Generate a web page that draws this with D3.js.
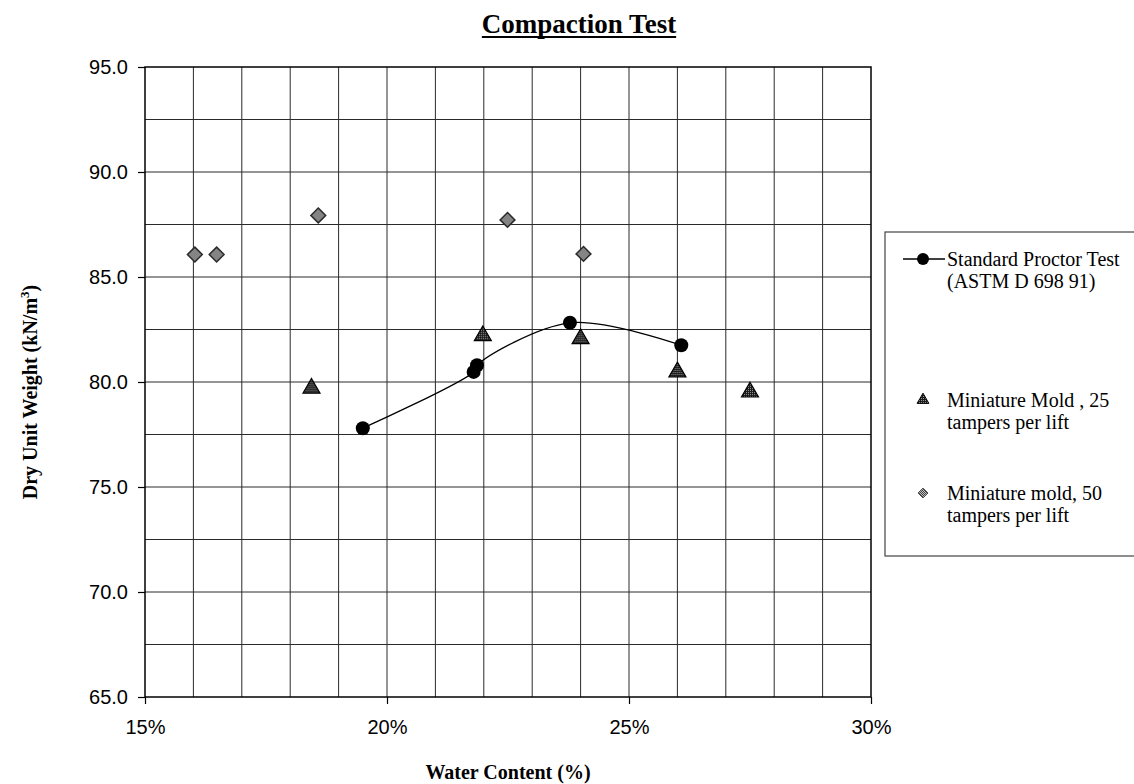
<!DOCTYPE html>
<html><head><meta charset="utf-8">
<script src="https://cdn.jsdelivr.net/npm/d3@7"></script>
<style>body{margin:0;background:#fff}svg{display:block}</style></head>
<body>
<script>
// Data
const proctorX = [19.5, 21.79, 21.86, 23.78, 26.08];
const proctorY = [77.8, 80.48, 80.8, 82.82, 81.75];
const mold25X = [18.44, 21.98, 24.0, 26.0, 27.5];
const mold25Y = [79.7, 82.2, 82.06, 80.48, 79.52];
const mold50X = [16.03, 16.48, 18.58, 22.49, 24.06];
const mold50Y = [86.07, 86.07, 87.93, 87.72, 86.1];
const xTicks = [15, 20, 25, 30];
const yTicks = [65, 70, 75, 80, 85, 90, 95];
const legendLabels = [
  ["Standard Proctor Test", "(ASTM D 698 91)"],
  ["Miniature Mold , 25", "tampers per lift"],
  ["Miniature mold, 50", "tampers per lift"]
];

const W = 1134, H = 784;
const svg = d3.select("body").append("svg").attr("width", W).attr("height", H);
const serif = "'Liberation Serif','Times New Roman',serif";
const sans = "'Liberation Sans',Arial,sans-serif";

const x = d3.scaleLinear().domain([15, 30]).range([145, 871]);
const y = d3.scaleLinear().domain([65, 95]).range([697, 67]);

// patterns
const defs = svg.append("defs");
const p1 = defs.append("pattern").attr("id", "hatchDark").attr("width", 2).attr("height", 2).attr("patternUnits", "userSpaceOnUse");
p1.append("rect").attr("width", 2).attr("height", 2).attr("fill", "#1a1a1a");
p1.append("rect").attr("width", 1).attr("height", 1).attr("fill", "#999");
const p2 = defs.append("pattern").attr("id", "hatchLight").attr("width", 2).attr("height", 2).attr("patternUnits", "userSpaceOnUse");
p2.append("rect").attr("width", 2).attr("height", 2).attr("fill", "#c4c4c4");
p2.append("rect").attr("width", 1).attr("height", 1).attr("fill", "#444");
p2.append("rect").attr("x", 1).attr("y", 1).attr("width", 1).attr("height", 1).attr("fill", "#444");

// Grid
const grid = svg.append("g");
grid.selectAll("line.v").data(d3.range(16, 30)).join("line")
  .attr("x1", d => x(d)).attr("x2", d => x(d)).attr("y1", y(95)).attr("y2", y(65))
  .attr("stroke", "#2a2a2a").attr("stroke-width", 1);
grid.selectAll("line.h").data(d3.range(67.5, 95, 2.5)).join("line")
  .attr("y1", d => y(d)).attr("y2", d => y(d)).attr("x1", x(15)).attr("x2", x(30))
  .attr("stroke", "#2a2a2a").attr("stroke-width", 1);

// Plot border
svg.append("rect").attr("x", x(15)).attr("y", y(95)).attr("width", x(30) - x(15)).attr("height", y(65) - y(95))
  .attr("fill", "none").attr("stroke", "#000").attr("stroke-width", 1.5);

// Axes
const yAxis = svg.append("g").attr("transform", `translate(${x(15)},0)`)
  .call(d3.axisLeft(y).tickValues(yTicks).tickSize(7).tickFormat(d3.format(".1f")));
yAxis.select(".domain").remove();
yAxis.selectAll("line").attr("stroke", "#000").attr("stroke-width", 1.2);
yAxis.selectAll("text").attr("x", -17).attr("font-family", sans).attr("font-size", 20).attr("fill", "#000");

const xAxis = svg.append("g").attr("transform", `translate(0,${y(65)})`)
  .call(d3.axisBottom(x).tickValues(xTicks).tickSize(7).tickFormat(d => d + "%"));
xAxis.select(".domain").remove();
xAxis.selectAll("line").attr("stroke", "#000").attr("stroke-width", 1.2);
xAxis.selectAll("text").attr("y", 37).attr("dy", 0).attr("font-family", sans).attr("font-size", 20).attr("fill", "#000");

// Proctor curve
const pts = proctorX.map((d, i) => [d, proctorY[i]]);
svg.append("path").datum(pts)
  .attr("d", d3.line().x(d => x(d[0])).y(d => y(d[1])).curve(d3.curveCatmullRom.alpha(0.5)))
  .attr("fill", "none").attr("stroke", "#000").attr("stroke-width", 1.3);
svg.selectAll("circle.p").data(pts).join("circle")
  .attr("cx", d => x(d[0])).attr("cy", d => y(d[1])).attr("r", 7).attr("fill", "#000");

// Triangles
const tri = d3.symbol().type(d3.symbolTriangle).size(125);
svg.selectAll("path.t").data(mold25X.map((d, i) => [d, mold25Y[i]])).join("path")
  .attr("d", tri).attr("transform", d => `translate(${x(d[0])},${y(d[1])})`)
  .attr("fill", "url(#hatchDark)").attr("stroke", "#000").attr("stroke-width", 1.2);

// Diamonds
const dia = d3.symbol().type(d3.symbolDiamond2).size(140);
svg.selectAll("path.d").data(mold50X.map((d, i) => [d, mold50Y[i]])).join("path")
  .attr("d", dia).attr("transform", d => `translate(${x(d[0])},${y(d[1])})`)
  .attr("fill", "url(#hatchLight)").attr("stroke", "#2a2a2a").attr("stroke-width", 1.5);

// Title
const title = svg.append("text").attr("x", 579).attr("y", 33).attr("text-anchor", "middle")
  .attr("font-family", serif).attr("font-weight", "bold").attr("font-size", 27).text("Compaction Test");
const tw = title.node().getComputedTextLength();
svg.append("line").attr("x1", 579 - tw / 2).attr("x2", 579 + tw / 2).attr("y1", 37).attr("y2", 37)
  .attr("stroke", "#000").attr("stroke-width", 2);

// Axis titles
svg.append("text").attr("x", (x(15) + x(30)) / 2).attr("y", 779).attr("text-anchor", "middle")
  .attr("font-family", serif).attr("font-weight", "bold").attr("font-size", 20).text("Water Content (%)");
const yt = svg.append("text").attr("transform", "translate(37,392) rotate(-90)").attr("text-anchor", "middle")
  .attr("font-family", serif).attr("font-weight", "bold").attr("font-size", 20);
yt.append("tspan").text("Dry Unit Weight (kN/m");
yt.append("tspan").attr("font-size", 13).attr("dy", -8).text("3");
yt.append("tspan").attr("dy", 8).text(")");

// Legend
const lg = svg.append("g");
lg.append("rect").attr("x", 885).attr("y", 232).attr("width", 320).attr("height", 324)
  .attr("fill", "#fff").attr("stroke", "#444").attr("stroke-width", 1.2);
const ly = [259, 400, 493];
lg.append("line").attr("x1", 903).attr("x2", 945).attr("y1", ly[0]).attr("y2", ly[0]).attr("stroke", "#000").attr("stroke-width", 1.5);
lg.append("circle").attr("cx", 923).attr("cy", ly[0]).attr("r", 6).attr("fill", "#000");
lg.append("path").attr("d", d3.symbol().type(d3.symbolTriangle).size(60)).attr("transform", `translate(923,${ly[1]})`)
  .attr("fill", "url(#hatchDark)").attr("stroke", "#000");
lg.append("path").attr("d", d3.symbol().type(d3.symbolDiamond2).size(60)).attr("transform", `translate(923,${ly[2]})`)
  .attr("fill", "url(#hatchLight)").attr("stroke", "#333");
legendLabels.forEach((lines, i) => {
  lines.forEach((t, j) => {
    lg.append("text").attr("x", 947).attr("y", ly[i] + 7 + j * 22)
      .attr("font-family", serif).attr("font-size", 20).attr("fill", "#000").text(t);
  });
});
</script>
</body></html>
